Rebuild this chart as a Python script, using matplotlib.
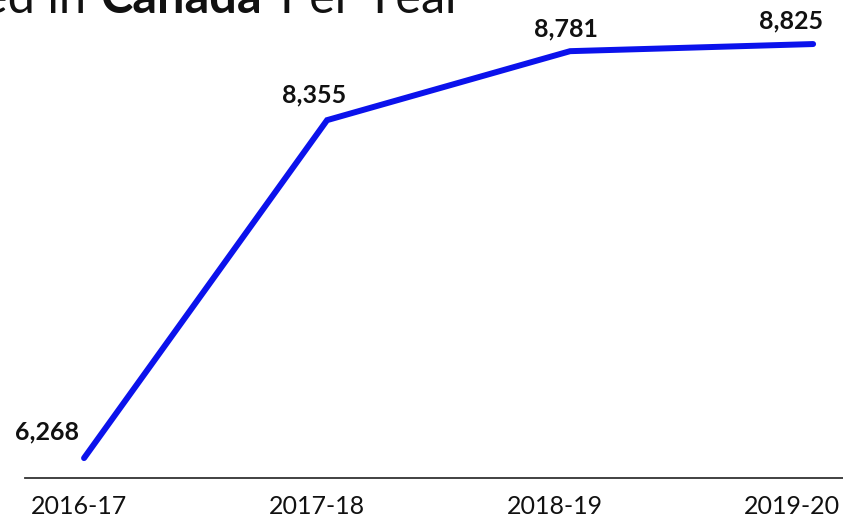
import matplotlib
matplotlib.use("Agg")
import matplotlib.pyplot as plt
from matplotlib.transforms import ScaledTranslation

years = ["2016-17", "2017-18", "2018-19", "2019-20"]
values = [6268, 8355, 8781, 8825]
labels = ["6,268", "8,355", "8,781", "8,825"]

W, H = 843, 521
fig = plt.figure(figsize=(W / 100, H / 100), dpi=100)
plt.rcParams['font.family'] = ['Lato', 'DejaVu Sans']

# axes: pixel x 25..843, pixel y 0..478
ax = fig.add_axes([25 / W, (H - 478) / H, (W - 25) / W, 478 / H])
x = list(range(len(years)))
ax.plot(x, values, color="#0b12ec", lw=4.3, solid_capstyle="round", solid_joinstyle="miter")
ax.set_xlim(-0.243, 3.123)
ax.set_ylim(6145, 9097)

for s in ["top", "right", "left"]:
    ax.spines[s].set_visible(False)
ax.spines["bottom"].set_color("#333333")
ax.spines["bottom"].set_linewidth(1.3)
ax.set_yticks([])
ax.set_xticks(x)
ax.set_xticklabels(years, fontsize=18, color="#111111")
ax.tick_params(axis="x", length=0, pad=12)
tick_dx = [-3.6, -7.2, -10.8, -15.5]
for lab, dx in zip(ax.get_xticklabels(), tick_dx):
    lab.set_transform(lab.get_transform() + ScaledTranslation(dx / 72, 0, fig.dpi_scale_trans))

offsets = [(-27, 19), (-9, 18), (-3, 16), (-16, 17)]
for xi, v, lab, off in zip(x, values, labels, offsets):
    ax.annotate(lab, (xi, v), xytext=off, textcoords="offset points",
                ha="center", va="center", fontsize=18, fontweight="bold", color="#111111")

# cut-off title (the reference shows it clipped at the top edge)
yb = 1 - 13 / H
fig.text(86 / W, yb, "ed in", fontsize=35, va="baseline", ha="right", color="#111111")
fig.text(100 / W, yb, "Canada", fontsize=35, fontweight="bold", va="baseline", ha="left", color="#111111")
fig.text(280 / W, yb, "Per Year", fontsize=35, va="baseline", ha="left", color="#111111")

fig.savefig("out.png", dpi=100)
